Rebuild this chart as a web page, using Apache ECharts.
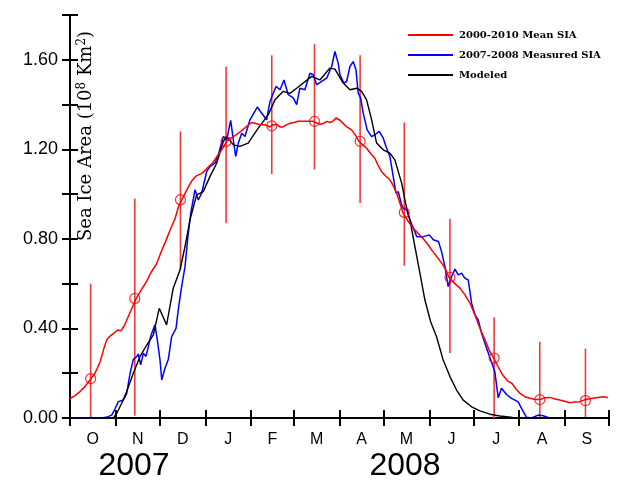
<!DOCTYPE html>
<html>
<head>
<meta charset="utf-8">
<script src="https://cdn.jsdelivr.net/npm/echarts@6/dist/echarts.min.js"></script>
<style>html,body{margin:0;padding:0;background:#fff}#c{width:626px;height:483px}</style>
</head>
<body>
<div id="c"></div>
<script>
// x = day since 1 Oct 2007, y = sea ice area (10^8 km^2)
const monthStarts = [0, 31, 61, 92, 123, 152, 183, 213, 244, 274, 305, 336, 366];
const monthLetters = ['O', 'N', 'D', 'J', 'F', 'M', 'A', 'M', 'J', 'J', 'A', 'S'];
const yearLabels = ['2007', '2008'];
const yTickValues = [0, 0.2, 0.4, 0.6, 0.8, 1.0, 1.2, 1.4, 1.6, 1.8];
const yLabelValues = [0, 0.4, 0.8, 1.2, 1.6];

const meanSIA = [
  [0,0.087],[3.4,0.10],[6.8,0.118],[10.2,0.14],[14,0.174],[17,0.20],[20.4,0.25],[23,0.31],[25,0.35],[27,0.365],
  [30,0.38],[32.5,0.393],[34.6,0.39],[36.7,0.41],[38.7,0.44],[41.4,0.48],[44.8,0.532],[48.2,0.57],[52,0.61],[55,0.65],
  [58.9,0.69],[61.8,0.74],[65.6,0.80],[68.6,0.85],[71.3,0.89],[74,0.95],[76,0.975],[79.4,1.02],[82.8,1.06],[85.5,1.08],
  [90.3,1.096],[93.7,1.12],[97,1.14],[100.5,1.175],[103.2,1.20],[106.4,1.235],[109.3,1.25],[112.7,1.265],[116,1.28],[119.5,1.30],
  [123.4,1.32],[126.3,1.315],[129,1.31],[132.4,1.31],[135.8,1.30],[137.8,1.31],[140.5,1.31],[142.6,1.30],[144.6,1.30],[147.3,1.31],
  [149.4,1.317],[152,1.32],[154.8,1.325],[158.2,1.325],[161.6,1.325],[165,1.325],[167,1.32],[169.7,1.312],[171.8,1.315],[174.3,1.325],
  [176.5,1.32],[178.5,1.325],[180.6,1.34],[183.3,1.33],[185.3,1.317],[188,1.30],[191.2,1.287],[194.2,1.26],[196.2,1.235],[198.9,1.22],
  [201.4,1.205],[204.3,1.18],[207,1.16],[209.1,1.13],[211.6,1.10],[214.5,1.08],[217.2,1.064],[219.3,1.04],[221.8,1.004],[224,0.96],
  [226,0.917],[229.5,0.88],[232.9,0.848],[236.3,0.825],[239.6,0.803],[243,0.775],[246.4,0.743],[249.8,0.715],[253.2,0.684],[255.3,0.66],
  [257.3,0.629],[261.4,0.60],[264.8,0.58],[268.2,0.55],[271.6,0.513],[275,0.46],[278.4,0.40],[281.7,0.35],[285.1,0.296],[287.8,0.267],
  [290.6,0.23],[294,0.19],[297.3,0.165],[300,0.155],[302.8,0.13],[305.5,0.11],[308.9,0.095],[312.3,0.088],[315.7,0.083],[319.1,0.083],
  [322.5,0.09],[325.9,0.092],[329.3,0.085],[332.6,0.08],[336,0.075],[339.4,0.068],[342.8,0.072],[346.2,0.073],[349,0.08],[351.7,0.085],
  [355,0.088],[358.5,0.092],[361.9,0.095],[365.2,0.092]
];

const measuredSIA = [
  [0,0],[21,0],[24.5,0.003],[28.3,0.013],[30.5,0.04],[32.8,0.073],[36.2,0.08],[38.5,0.11],[40.8,0.2],[43,0.262],
  [45.3,0.274],[46.4,0.286],[48,0.237],[49.8,0.289],[51.6,0.275],[53.2,0.319],[55,0.37],[57.7,0.416],[59.3,0.349],[61.1,0.26],
  [62.3,0.17],[64.5,0.222],[66.7,0.26],[69,0.363],[72,0.40],[73.5,0.483],[75.8,0.587],[78.1,0.676],[80.3,0.825],[82,0.915],
  [84.9,1.02],[87.1,0.974],[89.4,1.004],[92.8,1.10],[95,1.123],[98.4,1.138],[100.7,1.175],[104.1,1.257],[106.4,1.242],[109.1,1.329],
  [110.9,1.242],[112.5,1.168],[114.3,1.228],[116.6,1.272],[118.8,1.257],[122.2,1.332],[127.2,1.389],[130.1,1.362],[133.5,1.332],[135.8,1.414],
  [139.9,1.481],[142.6,1.466],[145.3,1.51],[148.2,1.444],[151.6,1.43],[153.9,1.40],[156.1,1.473],[159.5,1.466],[162.9,1.54],[165.2,1.533],
  [167.5,1.488],[170.9,1.503],[174.3,1.518],[177.7,1.57],[179.9,1.637],[182.1,1.585],[183.3,1.533],[186,1.496],[187.8,1.503],[190.1,1.57],
  [192.3,1.592],[194.2,1.555],[195.7,1.451],[197.4,1.429],[199.1,1.362],[201.8,1.287],[204.8,1.257],[207.1,1.265],[210,1.28],[212.7,1.25],
  [215,1.205],[217.2,1.168],[219.5,1.078],[221.3,1.004],[222.9,1.011],[225.2,0.952],[226.3,0.937],[228.6,0.93],[230.8,0.885],[235.5,0.81],
  [240,0.81],[244,0.818],[246.7,0.796],[250.2,0.788],[252.3,0.743],[254.6,0.676],[256.8,0.587],[259.1,0.631],[261.4,0.665],[263.6,0.639],
  [265.9,0.647],[268.2,0.624],[270.4,0.617],[272.7,0.513],[275,0.46],[277.2,0.438],[279.5,0.378],[282.9,0.312],[286.3,0.248],[288.5,0.205],
  [290.8,0.09],[293,0.133],[296.4,0.105],[299.8,0.088],[302.1,0.08],[304.3,0.072],[306.6,0.043],[307.7,0.05],[310,0.003],[313.4,0],
  [317.9,0.013],[321.3,0.01],[324.7,0.002]
];

const modeled = [
  [0,0],[29.4,0],[31.7,0.02],[35.1,0.066],[38.5,0.118],[43,0.2],[47.5,0.274],[52.1,0.326],[56.6,0.371],[60.6,0.49],
  [65.6,0.416],[70.1,0.58],[74.7,0.661],[78.1,0.766],[81.5,0.885],[86,0.997],[90.5,1.011],[95,1.078],[99.6,1.138],[104.1,1.235],
  [106.4,1.257],[110.9,1.22],[115.4,1.213],[121,1.228],[127.8,1.295],[134.6,1.354],[139.2,1.421],[144.8,1.459],[149.4,1.45],[153.9,1.473],
  [164.1,1.526],[169.7,1.51],[176.5,1.563],[179.9,1.558],[185.5,1.496],[190.1,1.466],[194.7,1.473],[198,1.459],[201.4,1.421],[204.8,1.332],
  [208.2,1.228],[212.7,1.198],[217.2,1.183],[220.6,1.153],[225.2,1.049],[228.1,0.952],[230.8,0.885],[234.2,0.766],[237.6,0.647],[241,0.527],
  [244.9,0.43],[248.9,0.363],[253.4,0.259],[258,0.185],[262.5,0.125],[267,0.08],[272.7,0.05],[278.3,0.032],[285.1,0.017],[291.9,0.009],
  [300.7,0.003],[319,0],[365,0]
];

// monthly climatology: day (15th of month), mean, low, high
const monthDays = [14, 44, 75, 106, 137, 166, 197, 227, 258, 288, 319, 350];
const monthMean = [0.176, 0.534, 0.975, 1.235, 1.305, 1.325, 1.236, 0.918, 0.628, 0.268, 0.082, 0.078];
const monthLow  = [0, 0.01, 0.66, 0.87, 1.09, 1.11, 0.96, 0.68, 0.29, 0, 0, 0];
const monthHigh = [0.60, 0.98, 1.28, 1.57, 1.62, 1.67, 1.62, 1.32, 0.89, 0.45, 0.34, 0.31];

const monthMids = monthStarts.slice(0, 12).map((s, i) => (s + monthStarts[i + 1]) / 2);
const errData = monthDays.map((d, i) => [d, monthLow[i], monthHigh[i]]);
const meanPts = monthDays.map((d, i) => [d, monthMean[i]]);

const chart = echarts.init(document.getElementById('c'), null, {renderer: 'canvas'});
const axisLine = {show: true, lineStyle: {color: '#000', width: 2}};
const tickStyle = {color: '#000', width: 2};
const option = {
  animation: false,
  backgroundColor: '#fff',
  grid: {left: 70, right: 17, top: 15, bottom: 65, containLabel: false},
  legend: {
    orient: 'vertical', left: 403, top: 25, itemWidth: 45, itemHeight: 2, itemGap: 10,
    icon: 'rect',
    textStyle: {fontFamily: 'DejaVu Serif', fontWeight: 'bold', fontSize: 10, color: '#000', padding: [0, 0, 0, 1]},
    data: ['2000-2010 Mean SIA', '2007-2008 Measured SIA', 'Modeled']
  },
  xAxis: [
    {
      type: 'value', min: 0, max: 366, position: 'bottom',
      axisLine: axisLine, splitLine: {show: false},
      axisTick: {show: true, length: 8, lineStyle: tickStyle, customValues: monthStarts},
      axisLabel: {
        show: true, margin: 14, fontSize: 16, color: '#000', fontFamily: 'Liberation Sans',
        customValues: monthMids,
        formatter: v => { const i = monthMids.findIndex(m => Math.abs(m - v) < 0.01); return i >= 0 ? monthLetters[i] : ''; }
      }
    },
    {
      type: 'value', min: 0, max: 366, position: 'top',
      axisLine: axisLine, splitLine: {show: false},
      axisTick: {show: true, length: 8, lineStyle: tickStyle, customValues: monthStarts},
      axisLabel: {show: false}
    }
  ],
  yAxis: [
    {
      type: 'value', min: 0, max: 1.8, interval: 0.2, position: 'left',
      axisLine: axisLine, splitLine: {show: false},
      axisTick: {show: true, length: 8, lineStyle: tickStyle, customValues: yTickValues},
      axisLabel: {
        show: true, margin: 12, fontSize: 18, color: '#000', fontFamily: 'Liberation Sans',
        customValues: yLabelValues, formatter: v => v.toFixed(2)
      }
    },
    {
      type: 'value', min: 0, max: 1.8, interval: 0.2, position: 'right',
      axisLine: axisLine, splitLine: {show: false},
      axisTick: {show: true, length: 8, lineStyle: tickStyle, customValues: yTickValues},
      axisLabel: {show: false}
    }
  ],
  series: [
    {
      name: 'errbars', type: 'custom', xAxisIndex: 0, yAxisIndex: 0, z: 1,
      data: errData,
      renderItem: (params, api) => {
        const p1 = api.coord([api.value(0), api.value(1)]);
        const p2 = api.coord([api.value(0), api.value(2)]);
        return {type: 'line', shape: {x1: p1[0], y1: p1[1], x2: p2[0], y2: p2[1]},
                style: {stroke: '#f03a3a', lineWidth: 1.6}};
      }
    },
    {
      name: '2000-2010 Mean SIA', type: 'line', data: meanSIA, symbol: 'none', z: 4,
      color: '#ff0000', lineStyle: {color: '#ff0000', width: 1.5}
    },
    {
      name: 'monthly', type: 'scatter', data: meanPts, symbol: 'circle', symbolSize: 10, z: 5,
      itemStyle: {color: 'rgba(0,0,0,0)', borderColor: '#ff0000', borderWidth: 1.2}
    },
    {
      name: '2007-2008 Measured SIA', type: 'line', data: measuredSIA, symbol: 'none', z: 3,
      color: '#0000ff', lineStyle: {color: '#0000ff', width: 1.5}
    },
    {
      name: 'Modeled', type: 'line', data: modeled, symbol: 'none', z: 3,
      color: '#000000', lineStyle: {color: '#000000', width: 1.4}
    }
  ],
  graphic: [
    {
      type: 'text', x: 86, y: 136, rotation: Math.PI / 2, z: 10,
      style: {
        text: 'Sea Ice Area (10{s|8} Km{s|2})',
        fontFamily: 'DejaVu Serif', fontSize: 18, fill: '#000',
        align: 'center', verticalAlign: 'middle',
        rich: {s: {fontFamily: 'DejaVu Serif', fontSize: 12, verticalAlign: 'top', padding: [0, 0, 9, 0], fill: '#000'}}
      }
    },
    {type: 'text', x: 134, y: 466, style: {text: yearLabels[0], fontFamily: 'Liberation Sans', fontSize: 32, fill: '#000', align: 'center', verticalAlign: 'middle'}},
    {type: 'text', x: 405, y: 466, style: {text: yearLabels[1], fontFamily: 'Liberation Sans', fontSize: 32, fill: '#000', align: 'center', verticalAlign: 'middle'}}
  ]
};
chart.setOption(option);
</script>
</body>
</html>
